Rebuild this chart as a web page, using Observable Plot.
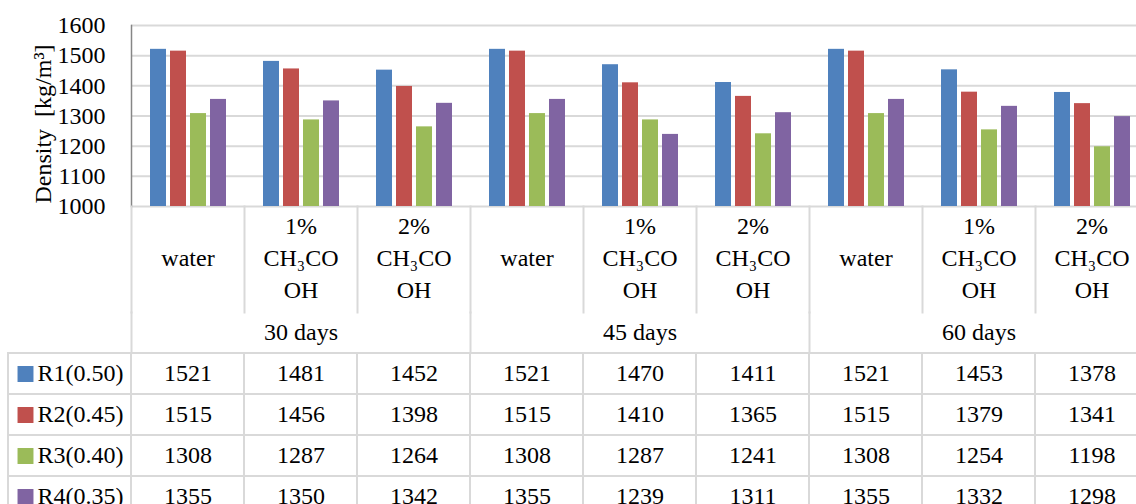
<!DOCTYPE html>
<html><head><meta charset="utf-8">
<script src="https://cdn.jsdelivr.net/npm/d3@7"></script>
<script src="https://cdn.jsdelivr.net/npm/@observablehq/plot@0.6"></script>
<style>
html,body{margin:0;padding:0;background:#fff;}
#wrap{position:relative;width:1136px;height:504px;overflow:hidden;background:#fff;}
#wrap svg{position:absolute;left:0;}
</style></head><body><div id="wrap"></div>
<script>
// ---- data ----
const groups = ["30 days", "45 days", "60 days"];
const conditions = ["water", "1%\nCH₃CO\nOH", "2%\nCH₃CO\nOH"];
const series = ["R1(0.50)", "R2(0.45)", "R3(0.40)", "R4(0.35)"];
const r1 = [1521, 1481, 1452, 1521, 1470, 1411, 1521, 1453, 1378];
const r2 = [1515, 1456, 1398, 1515, 1410, 1365, 1515, 1379, 1341];
const r3 = [1308, 1287, 1264, 1308, 1287, 1241, 1308, 1254, 1198];
const r4 = [1355, 1350, 1342, 1355, 1239, 1311, 1355, 1332, 1298];
const yTicks = [1000, 1100, 1200, 1300, 1400, 1500, 1600];
const yLabel = "Density  [kg/m³]";
const colors = ["#4F81BD", "#C0504D", "#9BBB59", "#8064A2"];

// ---- derived ----
const values = [r1, r2, r3, r4];
const categories = groups.flatMap(g => conditions.map(c => `${g}|${c}`));
const barData = series.flatMap((s, i) => categories.map((k, j) => ({series: s, key: k, value: values[i][j]})));
const Y0 = yTicks[0];

const FONT = "'Liberation Serif', 'DejaVu Serif', serif";
const W = 1148;
const GRID = "#d9d9d9";
const baseStyle = {fontFamily: FONT, fontSize: "24px", background: "transparent", color: "#000", maxWidth: "none", overflow: "visible"};
const wrap = document.getElementById("wrap");
function place(svg, top) { svg.style.top = top + "px"; wrap.appendChild(svg); }

// ---- bar chart ----
const p1 = Plot.plot({
  width: W, height: 226, marginTop: 25, marginBottom: 20, marginLeft: 131, marginRight: 0,
  style: baseStyle,
  fx: {domain: categories, padding: 0, axis: null},
  x: {domain: series, paddingInner: 0.2, paddingOuter: 0.856, axis: null},
  y: {domain: [yTicks[0], yTicks[yTicks.length - 1]]},
  color: {domain: series, range: colors},
  marks: [
    Plot.ruleY(yTicks, {stroke: GRID, strokeWidth: 2}),
    Plot.barY(barData, {fx: "key", x: "series", y1: () => Y0, y2: "value", fill: "series"}),
    Plot.frame({anchor: "left", stroke: "#868686", strokeWidth: 1.5, facet: "super"}),
    Plot.axisY(yTicks, {tickSize: 0, tickPadding: 26, tickFormat: d => String(d), label: null}),
    Plot.text([yLabel], {fx: () => categories[0], text: d => d, frameAnchor: "left", textAnchor: "middle", rotate: -90, dx: -88, dy: 8, lineAnchor: "middle"})
  ]
});
place(p1, 0);

// ---- category label row ----
const p2 = Plot.plot({
  width: W, height: 106, marginTop: 0, marginBottom: 0, marginLeft: 131, marginRight: 0,
  style: baseStyle,
  fx: {domain: categories, padding: 0, axis: null},
  marks: [
    Plot.frame({anchor: "left", stroke: GRID, strokeWidth: 2}),
    Plot.text(categories, {fx: d => d, text: d => d.split("|")[1], frameAnchor: "middle", lineAnchor: "middle", lineHeight: 1.34, dy: -4})
  ]
});
place(p2, 206);

// ---- group label row ----
const p3 = Plot.plot({
  width: W, height: 40, marginTop: 0, marginBottom: 0, marginLeft: 131, marginRight: 0,
  style: baseStyle,
  fx: {domain: groups, padding: 0, axis: null},
  marks: [
    Plot.frame({anchor: "left", stroke: GRID, strokeWidth: 2}),
    Plot.text(groups, {fx: d => d, text: d => d, frameAnchor: "middle", lineAnchor: "middle"})
  ]
});
place(p3, 312);

// ---- data table ----
const tableCols = ["legend", ...categories];
const p4 = Plot.plot({
  width: W, height: 167, marginTop: 1, marginBottom: 0, marginLeft: 18, marginRight: 0,
  style: baseStyle,
  x: {domain: tableCols, padding: 0, axis: null},
  y: {domain: series, padding: 0, axis: null},
  color: {domain: series, range: colors},
  marks: [
    Plot.cell(series, {x: () => "legend", y: d => d, fill: "white", stroke: GRID, strokeWidth: 2, insetLeft: -10}),
    Plot.cell(barData, {x: "key", y: "series", fill: "white", stroke: GRID, strokeWidth: 2}),
    Plot.text(barData, {x: "key", y: "series", text: d => String(d.value), dy: -1}),
    Plot.dot(series, {y: d => d, frameAnchor: "left", dx: 7, symbol: "square", r: 9, fill: d => d}),
    Plot.text(series, {y: d => d, text: d => d, frameAnchor: "left", dx: 19, dy: -1, textAnchor: "start"})
  ]
});
place(p4, 351);
</script>
</body></html>
